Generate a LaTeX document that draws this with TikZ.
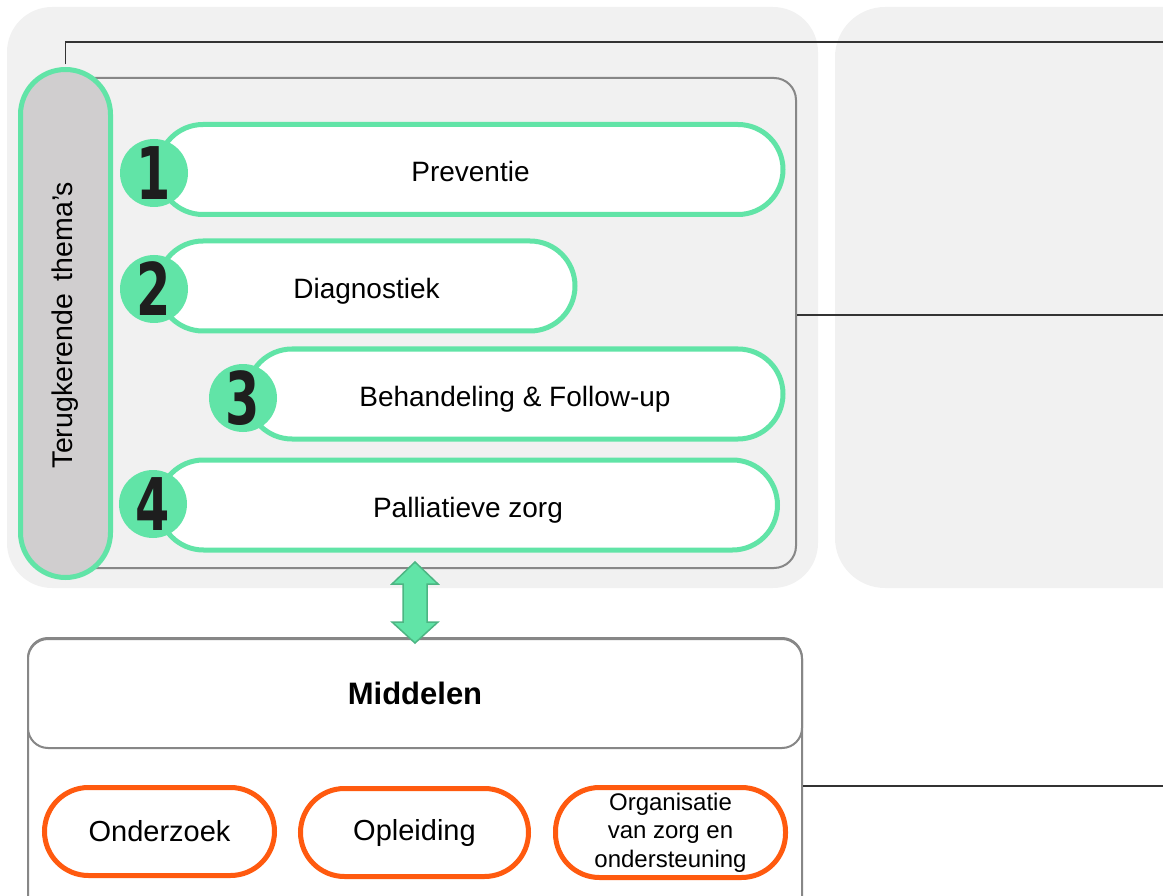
\documentclass[tikz,border=0pt]{standalone}
\usepackage{graphicx}
\usepackage{fontspec}
\setmainfont{Liberation Sans}
\newfontfamily\numfont{DejaVu Sans}
\usetikzlibrary{calc}
\definecolor{panelgray}{HTML}{F1F1F1}
\definecolor{boxgray}{HTML}{878787}
\definecolor{mint}{HTML}{61E4A7}
\definecolor{mintdark}{HTML}{4DB583}
\definecolor{pillgray}{HTML}{D0CECF}
\definecolor{orangeline}{HTML}{FF5A0F}
\definecolor{linedark}{HTML}{333333}
\definecolor{numblack}{HTML}{1E1E1E}
\newcommand\stepnum[1]{\scalebox{1.12}[1.65]{\numfont\bfseries\fontsize{44}{44}\selectfont #1}}
\begin{document}
\begin{tikzpicture}[x=1pt,y=-1pt,
  panel/.style={fill=panelgray, draw=none, rounded corners=45pt, inner sep=0pt},
  stagebox/.style={draw=boxgray, line width=2pt, fill=panelgray, rounded corners=22pt, inner sep=0pt},
  themepill/.style={draw=mint, line width=5pt, fill=pillgray, rounded corners=45pt, inner sep=0pt},
  steppill/.style={draw=mint, line width=5pt, fill=white, rounded corners=45pt, inner sep=0pt,
    minimum height=90pt, font=\fontsize{28}{28}\selectfont, text height=25pt, text depth=0pt},
  badge/.style={circle, fill=mint, draw=none, minimum size=68pt, inner sep=0pt, text=numblack},
  midbox/.style={draw=boxgray, line width=2pt, fill=white, rounded corners=20pt, inner sep=0pt},
  respill/.style={draw=orangeline, line width=5pt, fill=white, rounded corners=44pt, inner sep=0pt,
    minimum height=88pt, font=\fontsize{29}{29}\selectfont},
  conn/.style={draw=linedark, line width=1.5pt},
  dblarrow/.style={fill=mint, draw=mintdark, line width=1.5pt, line join=miter}
]
\useasboundingbox (0,0) rectangle (1163,896);
\clip (0,0) rectangle (1163,896);

% background panels
\node[panel, minimum width=811pt, minimum height=581pt] (leftpanel) at (412.5,297.5) {};
\node[panel, rounded corners=50pt, minimum width=400pt, minimum height=581pt] (rightpanel) at (1035,297.5) {};

% stages box
\node[stagebox, minimum width=736pt, minimum height=490pt] (stages) at (428,323) {};

% recurring themes pill
\node[themepill, minimum width=90pt, minimum height=508pt] (themes) at (65.5,323.5) {};
\node[rotate=90, font=\fontsize{28.5}{28.5}\selectfont, inner sep=0pt] (themelabel) at (65.5,325) {Terugkerende\hspace{0.45em}thema’s};

% step pills
\node[steppill, minimum width=625pt] (s1) at (470.5,169.5) {Preventie};
\node[steppill, minimum width=417pt] (s2) at (366.5,286) {Diagnostiek};
\node[steppill, minimum width=536pt] (s3) at (515,394) {Behandeling \& Follow-up};
\node[steppill, minimum width=619pt] (s4) at (468,505) {Palliatieve zorg};

% badges
\node[badge] (b1) at (154,173) {\stepnum{1}};
\node[badge] (b2) at (154,289) {\stepnum{2}};
\node[badge] (b3) at (243,398) {\stepnum{3}};
\node[badge] (b4) at (153,504) {\stepnum{4}};

% resources box
\node[midbox, minimum width=774pt, minimum height=296pt] (middelen) at (415,786) {};
\node[midbox, minimum width=774pt, minimum height=109pt, font=\bfseries\fontsize{31}{31}\selectfont] (midhead) at (415,693.5) {Middelen};

\node[respill, minimum width=230pt] (r1) at (159.5,831.5) {Onderzoek};
\node[respill, minimum width=228pt] (r2) at (414.5,832.5) {Opleiding};
\node[respill, minimum width=230pt, minimum height=90pt, align=center,
  font=\fontsize{24}{28.5}\selectfont] (r3) at (670.5,832.5) {Organisatie\\van zorg en\\ondersteuning};

% connectors
\coordinate (e1) at (1163,42);
\coordinate (e2) at (1163,315);
\coordinate (e3) at (1163,786);
\draw[conn, shorten <=2.5pt] (themes.north) |- (e1);
\draw[conn] (stages.east |- e2) -- (e2);
\draw[conn] (middelen.east) -- (e3);

% double arrow between stages and resources
\coordinate (atop) at (415,562);
\coordinate (abot) at (415,643);
\draw[dblarrow] (atop) -- ++(23,22) -- ++(-11,0) -- ($(abot)+(12,-21)$) -- ++(11,0) -- (abot)
  -- ++(-23,-21) -- ++(11,0) -- ($(atop)+(-12,22)$) -- ++(-11,0) -- cycle;
\end{tikzpicture}
\end{document}
